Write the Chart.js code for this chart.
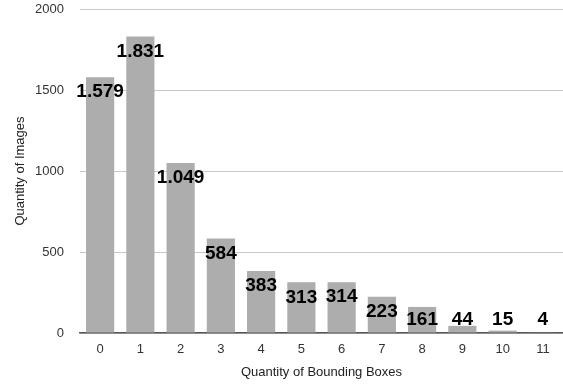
<!DOCTYPE html>
<html>
<head>
<meta charset="utf-8">
<script src="https://cdn.jsdelivr.net/npm/chart.js@4"></script>
<style>
  html, body { margin: 0; padding: 0; background: #fff; }
  #wrap { width: 563px; height: 384px; }
</style>
</head>
<body>
<div id="wrap"><canvas id="c" width="563" height="384"></canvas></div>
<script>
// Number of bounding boxes per image, and how many images have that many
const boxCounts = ['0', '1', '2', '3', '4', '5', '6', '7', '8', '9', '10', '11'];
const imageCounts = [1579, 1831, 1049, 584, 383, 313, 314, 223, 161, 44, 15, 4];
const yTicks = [0, 500, 1000, 1500, 2000];

const FONT = '"Liberation Sans", Arial, Helvetica, sans-serif';

// Thousands separated with a dot, e.g. 1.579
function formatCount(v) {
  return String(v).replace(/\B(?=(\d{3})+(?!\d))/g, '.');
}

// Bold value labels sitting on the top of each bar
const valueLabels = {
  id: 'valueLabels',
  afterDatasetsDraw(chart) {
    const ctx = chart.ctx;
    const meta = chart.getDatasetMeta(0);
    const floor = chart.chartArea.bottom - 13;
    ctx.save();
    ctx.font = 'bold 19px ' + FONT;
    ctx.fillStyle = '#000';
    ctx.textAlign = 'center';
    ctx.textBaseline = 'middle';
    meta.data.forEach((bar, i) => {
      const y = Math.min(bar.y + 15, floor);
      ctx.fillText(formatCount(imageCounts[i]), bar.x, y);
    });
    ctx.restore();
  }
};

new Chart(document.getElementById('c'), {
  type: 'bar',
  data: {
    labels: boxCounts,
    datasets: [{
      data: imageCounts,
      backgroundColor: '#adadad',
      borderWidth: 0,
      barPercentage: 0.7,
      categoryPercentage: 1.0
    }]
  },
  options: {
    responsive: false,
    animation: false,
    layout: { padding: { top: 9, right: 0, left: 0, bottom: 0 } },
    plugins: { legend: { display: false }, tooltip: { enabled: false } },
    scales: {
      x: {
        grid: { display: false, drawTicks: false },
        border: { display: true, color: '#555', width: 1.5 },
        ticks: { font: { family: FONT, size: 13 }, color: '#333', padding: 9 },
        title: {
          display: true, text: 'Quantity of Bounding Boxes',
          font: { family: FONT, size: 13 }, color: '#222', padding: { top: 6 }
        },
        afterFit(scale) {
          scale.height = 51;
          scale.paddingLeft = 0;
          scale.paddingRight = 0;
        }
      },
      y: {
        min: 0,
        max: 2000,
        afterBuildTicks(scale) { scale.ticks = yTicks.map(v => ({ value: v })); },
        grid: { color: '#c8c8c8', lineWidth: 1, drawTicks: false },
        border: { display: false },
        ticks: {
          font: { family: FONT, size: 13 }, color: '#333', padding: 16,
          callback: v => String(v)
        },
        title: {
          display: true, text: 'Quantity of Images',
          font: { family: FONT, size: 13 }, color: '#222', padding: { top: 13, bottom: 6 }
        },
        afterFit(scale) {
          scale.width = 80;
          scale.paddingTop = 0;
          scale.paddingBottom = 0;
        }
      }
    }
  },
  plugins: [valueLabels]
});
</script>
</body>
</html>
